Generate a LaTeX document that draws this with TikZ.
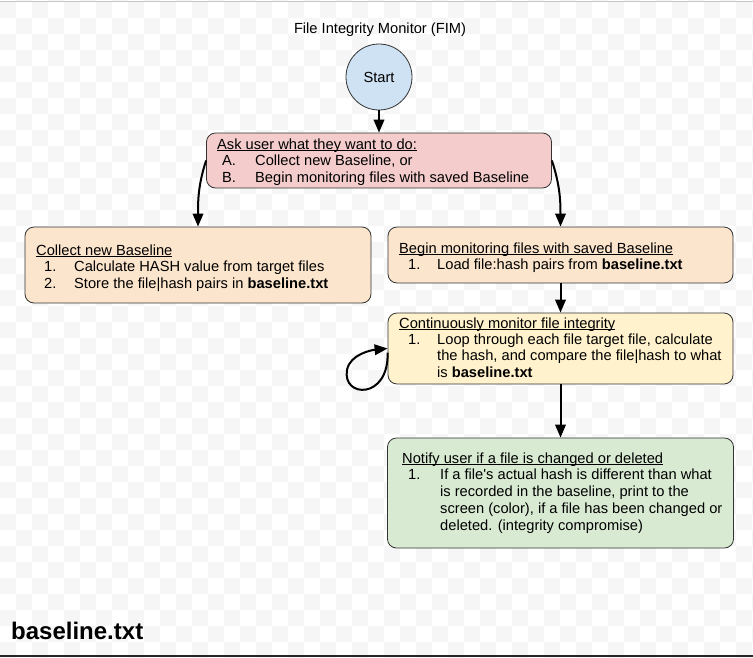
\documentclass[tikz,border=0pt]{standalone}
\usepackage{fontspec}
\setmainfont{Liberation Sans}[Ligatures=TeXOff]
\usetikzlibrary{arrows.meta}
\definecolor{startblue}{HTML}{CFE2F3}
\definecolor{askpink}{HTML}{F4CCCC}
\definecolor{boxorange}{HTML}{FCE5CD}
\definecolor{boxyellow}{HTML}{FFF2CC}
\definecolor{boxgreen}{HTML}{D9EAD3}
\definecolor{chkgray}{HTML}{F6F6F6}
\definecolor{edge}{HTML}{333333}
\newcommand\myul[1]{\leavevmode\setbox0\hbox{#1}\rlap{\rule[-1.9pt]{\wd0}{0.9pt}}\box0}
\newcommand\itm[3]{\hspace*{#1pt}\makebox[\dimexpr38pt-#1pt\relax][l]{#2}#3}
\newcommand\cnt[1]{\hspace*{38pt}#1}
\newcommand\blk[1]{\parbox[t]{340pt}{\raggedright #1}}
\begin{document}
\begin{tikzpicture}[x=1pt,y=-1pt,
  body/.style={font=\fontsize{14.67}{16.9}\selectfont},
  box/.style={draw=edge, line width=0.8pt, rounded corners=9pt, inner sep=0pt},
  txt/.style={body, anchor=base west, inner sep=0pt},
  arr/.style={-{Triangle[length=13pt,width=10.5pt]}, line width=2pt, black},
]
\useasboundingbox (0,0) rectangle (753,657);
\clip (0,0) rectangle (753,657);
% checkerboard background
\foreach \j in {-1,...,41}{
  \pgfmathtruncatemacro{\off}{mod(\j+10,2)*16}
  \foreach \i in {0,32,...,736}{
    \fill[chkgray] (\i+\off,2+16*\j) rectangle ++(16,16);
  }
}
\draw[black!22, line width=1pt] (0,1) -- (753,1);
\draw[black!85, line width=1.5pt] (0,655.8) -- (753,655.8);

% title
\node[body, anchor=base, inner sep=0pt] (title) at (380,33) {File Integrity Monitor (FIM)};

% start
\node[circle, draw=edge, line width=0.8pt, fill=startblue, minimum size=66pt, inner sep=0pt, body] (start) at (379,77) {Start};

% boxes
\node[box, fill=askpink, minimum width=345pt, minimum height=55pt] (ask) at (379,160.5) {};
\node[box, fill=boxorange, minimum width=346pt, minimum height=76pt] (left) at (198,265) {};
\node[box, fill=boxorange, minimum width=345pt, minimum height=56pt] (begin) at (560.5,255) {};
\node[box, fill=boxyellow, minimum width=345pt, minimum height=71pt] (cont) at (560.5,348.5) {};
\node[box, fill=boxgreen, minimum width=346pt, minimum height=110pt] (notify) at (560.5,493) {};

% texts
\node[txt] (tAsk) at (217,149) {\blk{\myul{Ask user what they want to do:}\\
  \itm{5}{A.}{Collect new Baseline, or}\\
  \itm{5}{B.}{Begin monitoring files with saved Baseline}}};
\node[txt] (tLeft) at (36,255) {\blk{\myul{Collect new Baseline}\\
  \itm{8}{1.}{Calculate HASH value from target files}\\
  \itm{8}{2.}{Store the file|hash pairs in \textbf{baseline.txt}}}};
\node[txt] (tBegin) at (399,253) {\blk{\myul{Begin monitoring files with saved Baseline}\\
  \itm{9}{1.}{Load file:hash pairs from \textbf{baseline.txt}}}};
\node[txt] (tCont) at (399,328) {\fontsize{14.67}{16.4}\selectfont\blk{\myul{Continuously monitor file integrity}\\
  \itm{9}{1.}{Loop through each file target file, calculate}\\
  \cnt{the hash, and compare the file|hash to what}\\
  \cnt{is \textbf{baseline.txt}}}};
\node[txt] (tNotify) at (402,463) {\blk{\myul{Notify user if a file is changed or deleted}\\
  \itm{6}{1.}{If a file's actual hash is different than what}\\
  \cnt{is recorded in the baseline, print to the}\\
  \cnt{screen (color), if a file has been changed or}\\
  \cnt{deleted. (integrity compromise)}}};

\node[font=\bfseries\fontsize{24}{28}\selectfont, anchor=base west, inner sep=0pt] (bl) at (11,639) {baseline.txt};

% connectors
\draw[arr] (start) -- (ask);
\draw[arr] (ask.west) to[out=252,in=90] (left.north);
\draw[arr] (ask.east) to[out=288,in=90] (begin.north);
\draw[arr] (begin) -- (cont);
\draw[arr] (cont) -- (notify);
\draw[arr] ([yshift=-4pt]cont.west) .. controls (389,400) and (342,398) .. (347,370)
  .. controls (350,354) and (372,350) .. (cont.west);
\end{tikzpicture}
\end{document}
